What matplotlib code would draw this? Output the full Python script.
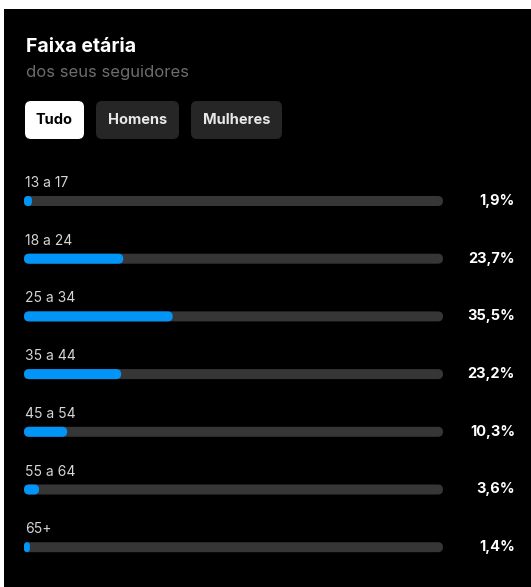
import matplotlib
matplotlib.use("Agg")
import matplotlib.pyplot as plt
from matplotlib.patches import FancyBboxPatch
import numpy as np

plt.rcParams['font.family'] = ['Inter', 'DejaVu Sans']

title = "Faixa etária"
subtitle = "dos seus seguidores"
tabs = ["Tudo", "Homens", "Mulheres"]
age_groups = ["13 a 17", "18 a 24", "25 a 34", "35 a 44", "45 a 54", "55 a 64", "65+"]
percentages = [1.9, 23.7, 35.5, 23.2, 10.3, 3.6, 1.4]
pct_labels = ["1,9%", "23,7%", "35,5%", "23,2%", "10,3%", "3,6%", "1,4%"]

W, H = 531, 587
fig = plt.figure(figsize=(W / 100, H / 100), dpi=100)
fig.patch.set_facecolor("white")
ax = fig.add_axes([0, 0, 1, 1])
ax.set_xlim(0, W)
ax.set_ylim(H, 0)
ax.axis("off")

# dark panel
ax.add_patch(plt.Rectangle((4, 9), W - 4, H - 9, facecolor="black", edgecolor="none", zorder=0))

ax.text(26, 47, title, color="white", fontsize=14, fontweight="bold", va="center", ha="left")
ax.text(26, 72, subtitle, color="#6c6c6c", fontsize=12, va="center", ha="left")

# tabs
tab_x = [25, 96, 191]
tab_w = [59, 83, 91]
for i, (t, x, w) in enumerate(zip(tabs, tab_x, tab_w)):
    fc = "white" if i == 0 else "#262626"
    tc = "black" if i == 0 else "#e8e8e8"
    ax.add_patch(FancyBboxPatch((x, 101), w, 38, boxstyle="round,pad=0,rounding_size=6",
                                facecolor=fc, edgecolor="none", zorder=2))
    ax.text(x + w / 2, 120, t, color=tc, fontsize=10.5, fontweight="bold",
            ha="center", va="center", zorder=3)

# bars
track_left, track_w = 24, 419
bar_h = 10
y0, dy = 201, 57.7
ys = y0 + dy * np.arange(len(age_groups))
vals = np.array(percentages)

tracks = ax.barh(ys, np.full(len(vals), 100.0) * track_w / 100, left=track_left, height=bar_h,
                 color="#363636", zorder=1)
bars = ax.barh(ys, vals * track_w / 100, left=track_left, height=bar_h,
               color="#0095f6", zorder=2)

for group in (tracks, bars):
    for p in group:
        x, y, w, h = p.get_x(), p.get_y(), p.get_width(), p.get_height()
        r = min(5, w / 2, h / 2)
        ax.add_patch(FancyBboxPatch((x, y), w, h, boxstyle=f"round,pad=0,rounding_size={r}",
                                    facecolor=p.get_facecolor(), edgecolor="none",
                                    zorder=p.get_zorder()))
        p.set_visible(False)

for y, lab, pl in zip(ys, age_groups, pct_labels):
    ax.text(25, y - 18, lab, color="#d6d6d6", fontsize=10, ha="left", va="center")
    ax.text(515, y, pl, color="white", fontsize=10.5, fontweight="bold", ha="right", va="center")

fig.savefig("out.png", dpi=100, facecolor=fig.get_facecolor())
